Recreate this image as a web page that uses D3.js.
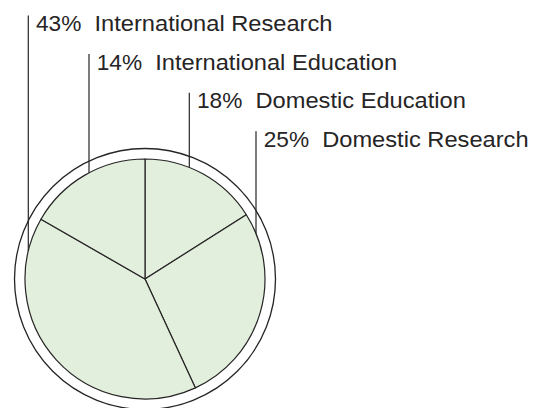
<!DOCTYPE html>
<html><head><meta charset="utf-8">
<script src="https://cdn.jsdelivr.net/npm/d3@7"></script>
<style>html,body{margin:0;padding:0;background:#fff;}svg{display:block;}</style>
</head><body>
<svg id="chart" width="543" height="408"></svg>
<script>
// Slices clockwise from 12 o'clock
const categories = ["Domestic Education", "Domestic Research", "International Research", "International Education"];
const labelPercents = [18, 25, 43, 14];
// shares as drawn in the picture (slice angles)
const drawnShares = [16.0, 27.1, 40.2, 16.7];
// label stacking order, top to bottom (indices into categories)
const labelOrder = [2, 3, 0, 1];

const W = 543, H = 408;
const cx = 145, cy = 279, rInner = 120, rOuter = 130.5;
const leaderX = [28.3, 89, 189.3, 256];
const firstBaseline = 31, rowStep = 38.6;
const ink = "#262425";
const font = "'Liberation Sans', Arial, sans-serif";
const widen = 1.075;

const svg = d3.select("#chart");
const g = svg.append("g").attr("transform", `translate(${cx},${cy})`);

g.append("circle").attr("r", rOuter).attr("fill", "#fff")
  .attr("stroke", ink).attr("stroke-width", 1.3);

const pie = d3.pie().sort(null).value(d => d.share);
const arc = d3.arc().innerRadius(0).outerRadius(rInner);
const data = categories.map((c, i) => ({cat: c, pct: labelPercents[i], share: drawnShares[i]}));

g.selectAll("path.slice").data(pie(data)).join("path")
  .attr("class", "slice")
  .attr("d", arc)
  .attr("fill", "#e2efdc")
  .attr("stroke", ink).attr("stroke-width", 1.2).attr("stroke-linejoin", "round");

const labels = svg.append("g");
labelOrder.forEach((idx, row) => {
  const d = data[idx];
  const base = firstBaseline + row * rowStep;
  const lx = leaderX[row];
  const dx = lx - cx;
  const yBottom = cy - Math.sqrt(Math.max(0, rInner * rInner - dx * dx));
  labels.append("line")
    .attr("x1", lx).attr("x2", lx)
    .attr("y1", base - 15.5).attr("y2", yBottom)
    .attr("stroke", ink).attr("stroke-width", 1.2);
  const tx = lx + 7.7;
  const p = labels.append("text").attr("x", tx).attr("y", base)
    .attr("font-family", font)
    .attr("font-size", 22).attr("fill", ink)
    .text(d.pct + "%");
  const pw = p.node().getComputedTextLength();
  p.attr("textLength", pw * 1.03).attr("lengthAdjust", "spacingAndGlyphs");
  const n = labels.append("text").attr("x", tx + 58.5).attr("y", base)
    .attr("font-family", font)
    .attr("font-size", 22).attr("fill", ink)
    .text(d.cat);
  const nw = n.node().getComputedTextLength();
  n.attr("textLength", nw * widen).attr("lengthAdjust", "spacingAndGlyphs");
});
</script>
</body></html>
